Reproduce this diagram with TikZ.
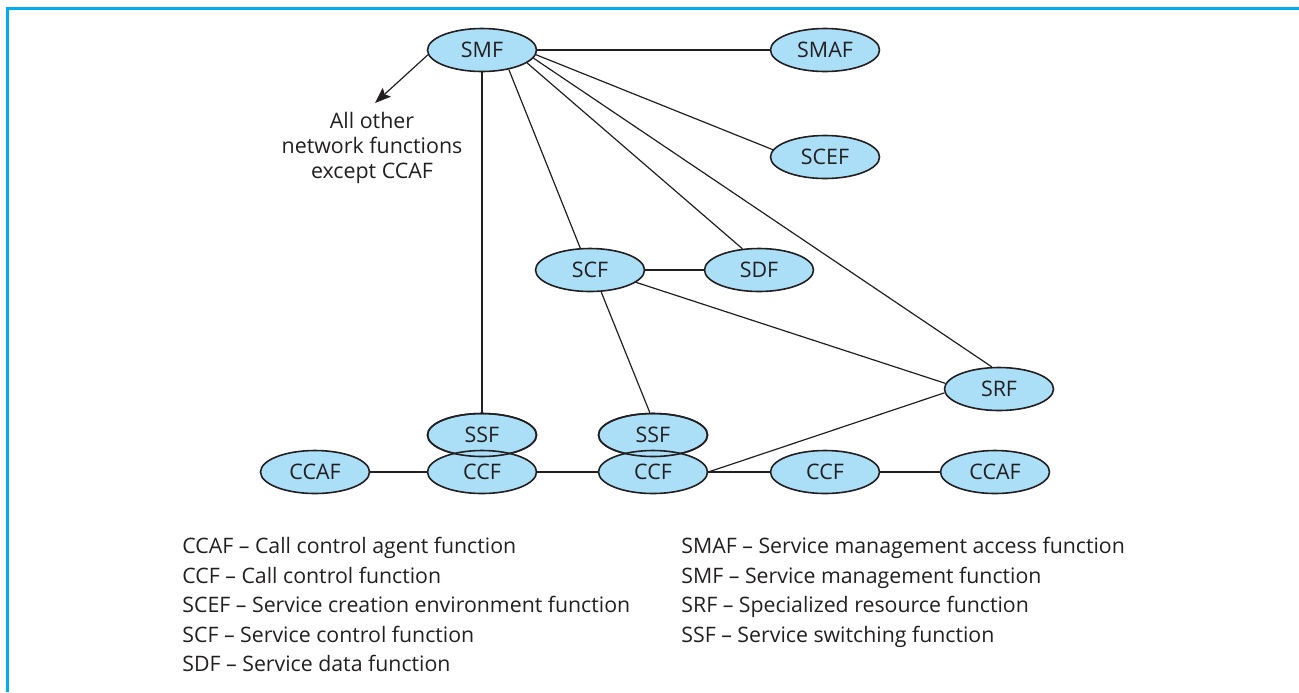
\documentclass[tikz,border=0pt]{standalone}
\usepackage{fontspec}
\setmainfont{Open Sans}
\usetikzlibrary{shapes.geometric,arrows.meta,backgrounds}
\definecolor{framecyan}{RGB}{0,174,239}
\definecolor{nodefill}{RGB}{170,223,247}
\definecolor{ink}{RGB}{35,31,32}
\begin{document}
\begin{tikzpicture}[x=0.5pt,y=-0.5pt,
  fn/.style={ellipse,draw=ink,line width=0.8pt,fill=nodefill,minimum width=54.5pt,minimum height=21.5pt,inner sep=0pt,font=\fontsize{10.7}{12}\selectfont,text=ink},
  fnoutline/.style={ellipse,draw=ink,line width=0.8pt,minimum width=54.5pt,minimum height=21.5pt,inner sep=0pt},
  conn/.style={draw=ink,line width=0.6pt},
  legend/.style={anchor=base west,inner sep=0pt,font=\fontsize{10.65}{12}\selectfont,text=ink},
  note/.style={align=center,inner sep=0pt,font=\fontsize{10.7}{12.5}\selectfont,text=ink}]
\useasboundingbox (0,0) rectangle (1299,692);
\draw[framecyan,line width=1.5pt] (1299,8.5) -- (7.5,8.5) -- (7.5,692);
% nodes
\node[fn] (smf) at (482,50) {SMF};
\node[fn] (smaf) at (825,50) {SMAF};
\node[fn] (scef) at (825,157) {SCEF};
\node[fn] (scf) at (590,270) {SCF};
\node[fn] (sdf) at (759,270) {SDF};
\node[fn] (srf) at (999,389) {SRF};
\node[fn] (ssfa) at (482,435) {SSF};
\node[fn] (ccfa) at (482,472) {CCF};
\node[fn] (ssfb) at (653,435) {SSF};
\node[fn] (ccfb) at (653,472) {CCF};
\node[fnoutline] (ssfaline) at (482,435) {};
\node[fnoutline] (ssfbline) at (653,435) {};
\node[fn] (ccaf) at (315,472) {CCAF};
\node[fn] (ccfc) at (825,472) {CCF};
\node[fn] (ccafb) at (995,472) {CCAF};
\node[note] (other) at (372,148) {All other\\network functions\\except CCAF};
\coordinate (arrowtip) at (375,103);
% connectors
\begin{scope}[on background layer]
\draw[conn] (smf.east) -- (smaf.west);
\draw[conn] (smf.-5) -- (scef.172);
\draw[conn] (smf.-9) -- (srf.108);
\draw[conn] (smf.-16) -- (sdf.128);
\draw[conn] (smf.-36) -- (scf.114);
\draw[conn] (smf.south) -- (ssfa.north);
\draw[conn] (scf.east) -- (sdf.west);
\draw[conn] (scf.-15) -- (srf.174);
\draw[conn] (scf.-63) -- (ssfb.98);
\draw[conn] (ccaf.east) -- (ccfa.west);
\draw[conn] (ccfa.east) -- (ccfb.west);
\draw[conn] (ccfb.east) -- (ccfc.west);
\draw[conn] (ccfc.east) -- (ccafb.west);
\draw[conn] (ccfb.east) -- (srf.184);
\end{scope}
\draw[conn,-{Stealth[length=8pt,width=6pt,inset=1.5pt]}] (smf.185) -- (arrowtip);
% legend
\node[legend] (l1) at (182,553) {CCAF – Call control agent function};
\node[legend] (l2) at (182,583) {CCF – Call control function};
\node[legend] (l3) at (182,612) {SCEF – Service creation environment function};
\node[legend] (l4) at (182,642) {SCF – Service control function};
\node[legend] (l5) at (182,671) {SDF – Service data function};
\node[legend] (r1) at (681,553) {SMAF – Service management access function};
\node[legend] (r2) at (681,583) {SMF – Service management function};
\node[legend] (r3) at (681,612) {SRF – Specialized resource function};
\node[legend] (r4) at (681,642) {SSF – Service switching function};
\end{tikzpicture}
\end{document}
